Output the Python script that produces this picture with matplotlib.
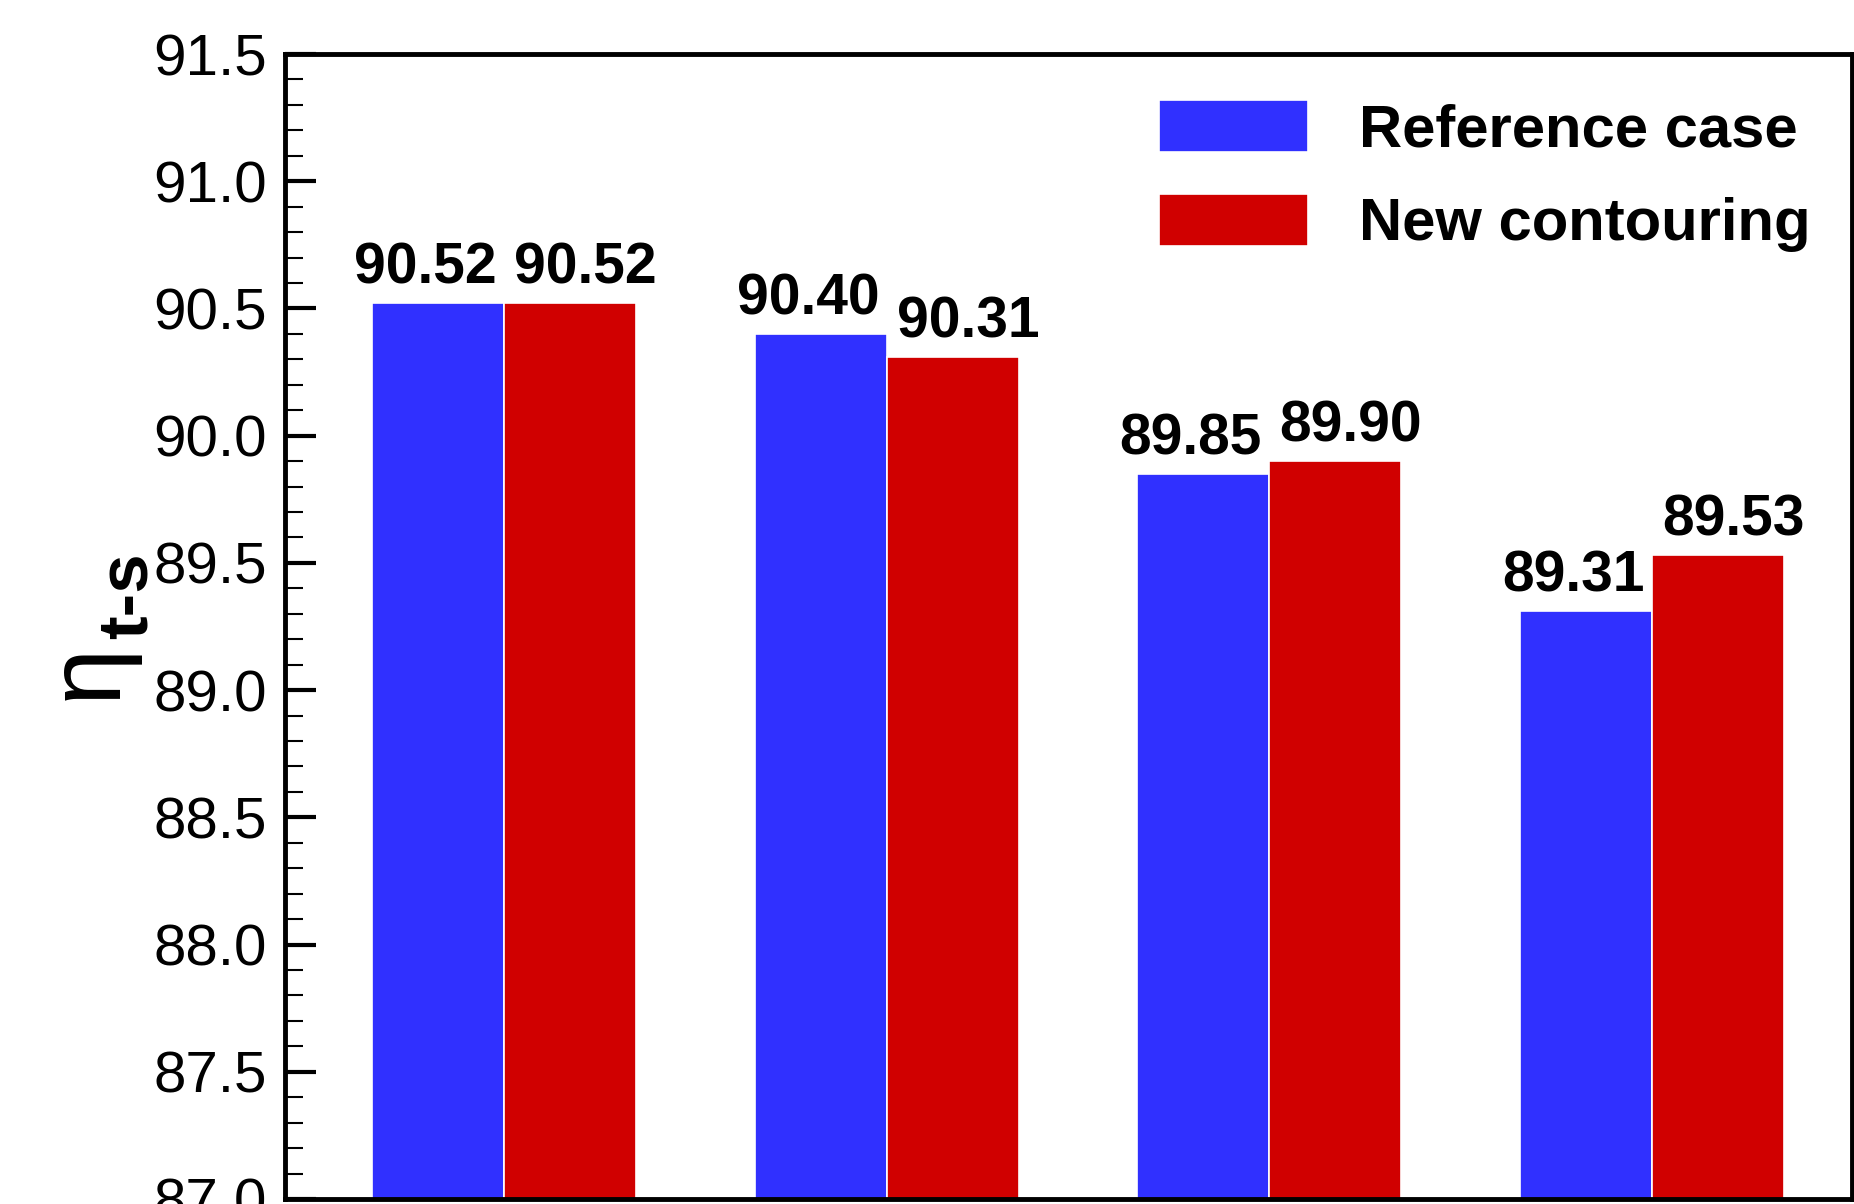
import numpy as np
import matplotlib
matplotlib.use("Agg")
import matplotlib.pyplot as plt
from matplotlib.ticker import MultipleLocator

# data
groups = [1, 2, 3, 4]
reference_case = [90.52, 90.40, 89.85, 89.31]
new_contouring = [90.52, 90.31, 89.90, 89.53]
series_names = ["Reference case", "New contouring"]
y_ticks = [87.0, 87.5, 88.0, 88.5, 89.0, 89.5, 90.0, 90.5, 91.0, 91.5]

plt.rcParams['font.family'] = ['Liberation Sans', 'DejaVu Sans']

fig = plt.figure(figsize=(18.54, 12.04), dpi=100)
ax = fig.add_axes([285 / 1854, 1 - 1199 / 1204, (1852 - 285) / 1854, (1199 - 54) / 1204])

x = np.array(groups, dtype=float)
w = 0.345
blue = '#3030FF'
red = '#D00000'

b1 = ax.bar(x - w / 2, reference_case, w, color=blue, edgecolor='white', linewidth=1.2,
            label=series_names[0])
b2 = ax.bar(x + w / 2, new_contouring, w, color=red, edgecolor='white', linewidth=1.2,
            label=series_names[1])

# value labels above bars
for bars, vals, dx in ((b1, reference_case, -9), (b2, new_contouring, 11)):
    for rect, v in zip(bars, vals):
        ax.annotate(f"{v:.2f}", (rect.get_x() + rect.get_width() / 2, v),
                    xytext=(dx, 14), textcoords='offset points',
                    ha='center', va='baseline', fontsize=41, fontweight='bold')

ax.set_xlim(0.428, 4.522)
ax.set_ylim(87.0, 91.5)
ax.set_yticks(y_ticks)
ax.set_yticklabels([f"{t:.1f}" for t in y_ticks])
ax.yaxis.set_minor_locator(MultipleLocator(0.1))
ax.set_xticks([])

ax.tick_params(axis='y', which='major', direction='in', length=22, width=3,
               labelsize=42, pad=13)
ax.tick_params(axis='y', which='minor', direction='in', length=13, width=1.5)

for s in ax.spines.values():
    s.set_linewidth(3.5)

# y label: eta with bold t-s subscript
ax.text(-0.125, 0.461, "\u03b7", transform=ax.transAxes, rotation=90,
        ha='center', va='center', fontsize=74, clip_on=False)
ax.text(-0.1, 0.527, "t-s", transform=ax.transAxes, rotation=90,
        ha='center', va='center', fontsize=51, fontweight='bold', clip_on=False)

leg = ax.legend(loc='upper left', bbox_to_anchor=(1159 / 1854, 1 - 100 / 1204),
                bbox_transform=fig.transFigure, frameon=False,
                prop={'size': 43, 'weight': 'bold'},
                handlelength=2.5, handleheight=0.95, handletextpad=0.85,
                labelspacing=0.6, borderpad=0, borderaxespad=0)

fig.savefig("out.png", dpi=100)
